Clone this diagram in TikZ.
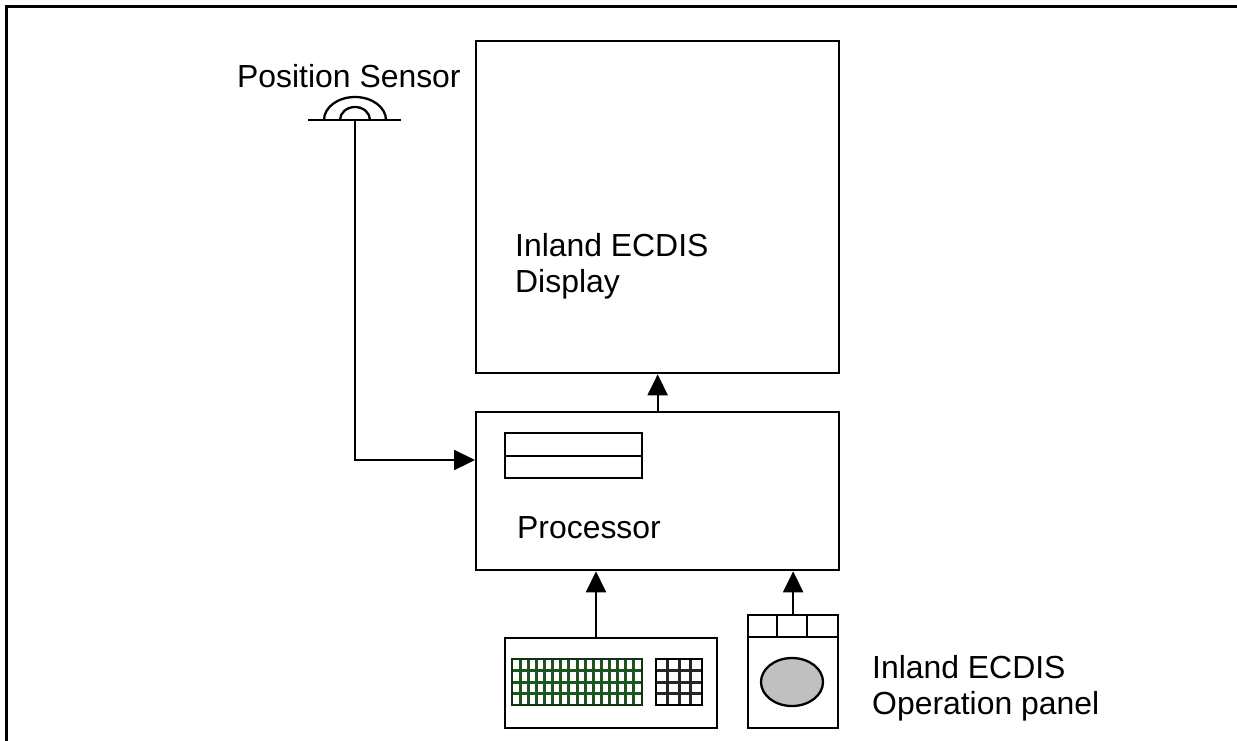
\documentclass[tikz,border=0pt]{standalone}
\usepackage{fontspec}
\setmainfont{Liberation Sans}
\usetikzlibrary{arrows.meta}
\definecolor{kgreen}{RGB}{30,85,30}
\definecolor{panelgray}{RGB}{192,192,192}
\begin{document}
\begin{tikzpicture}[x=1pt,y=1pt,
  box/.style={draw, line width=2.3pt, inner sep=0pt, anchor=north west},
  lbl/.style={anchor=base west, inner sep=0pt, font=\fontsize{31.9}{38}\selectfont},
  arr/.style={-{Triangle[length=21pt,width=20pt]}, line width=2.3pt},
  thin/.style={line width=2.3pt}]
\useasboundingbox (0,0) rectangle (1237,-740);
% frame
\draw[line width=3pt] (6,-742) -- (6,-6) -- (1240,-6);

% boxes
\node[box, minimum width=363pt, minimum height=332pt] (display) at (475,-40) {};
\node[box, minimum width=363pt, minimum height=158pt] (proc) at (475,-411) {};
\node[box, minimum width=212pt, minimum height=90pt] (kbd) at (504,-637) {};
\node[box, minimum width=90pt, minimum height=113pt] (panel) at (747,-614) {};

% texts
\node[lbl] (pslbl) at (237,-87) {Position Sensor};
\node[lbl] (dl1) at (515,-256) {Inland ECDIS};
\node[lbl] (dl2) at (515,-292) {Display};
\node[lbl] (pl) at (517,-538) {Processor};
\node[lbl] (op1) at (872,-678) {Inland ECDIS};
\node[lbl] (op2) at (872,-714) {Operation panel};

% position sensor symbol
\coordinate (sens) at (355,-120);
\draw[thin] (308,-120) -- (401,-120);
\draw[thin] (sens) ++(-31,0) arc[start angle=180, end angle=0, x radius=31, y radius=23];
\draw[thin] (sens) ++(-15,0) arc[start angle=180, end angle=0, x radius=15, y radius=13];

% processor inner unit
\draw[thin] (505,-433) rectangle (642,-478);
\draw[thin] (505,-456) -- (642,-456);

% keyboard grids
\draw[kgreen, line width=3pt] \foreach \i in {1,...,15} {({512+\i*8.125},-659) -- ({512+\i*8.125},-705)}
  \foreach \j in {1,2,3} {(512,{-659-\j*11.5}) -- (642,{-659-\j*11.5})};
\draw[line width=2.3pt, kgreen!60!black] (512,-659) rectangle (642,-705);
\draw[black!85, line width=3pt] \foreach \i in {1,2,3} {({656+\i*11.5},-659) -- ({656+\i*11.5},-705)}
  \foreach \j in {1,2,3} {(656,{-659-\j*11.5}) -- (702,{-659-\j*11.5})};
\draw[line width=2.3pt] (656,-659) rectangle (702,-705);

% operation panel
\draw[thin] (747,-637) -- (837,-637);
\draw[thin] (777,-614) -- (777,-637);
\draw[thin] (807,-614) -- (807,-637);
\draw[thin, fill=panelgray] (792,-682) ellipse [x radius=31, y radius=24];

% connectors
\coordinate (ka) at (596,0);
\coordinate (sj) at (355,-460);
\draw[arr] (proc.north) -- (display.south);
\draw[arr] (kbd.north -| ka) -- (proc.south -| ka);
\draw[arr] (panel.north) -- (proc.south -| panel.north);
\draw[arr] (sens) -- (sens |- sj) -- (proc.west |- sj);
\end{tikzpicture}
\end{document}
